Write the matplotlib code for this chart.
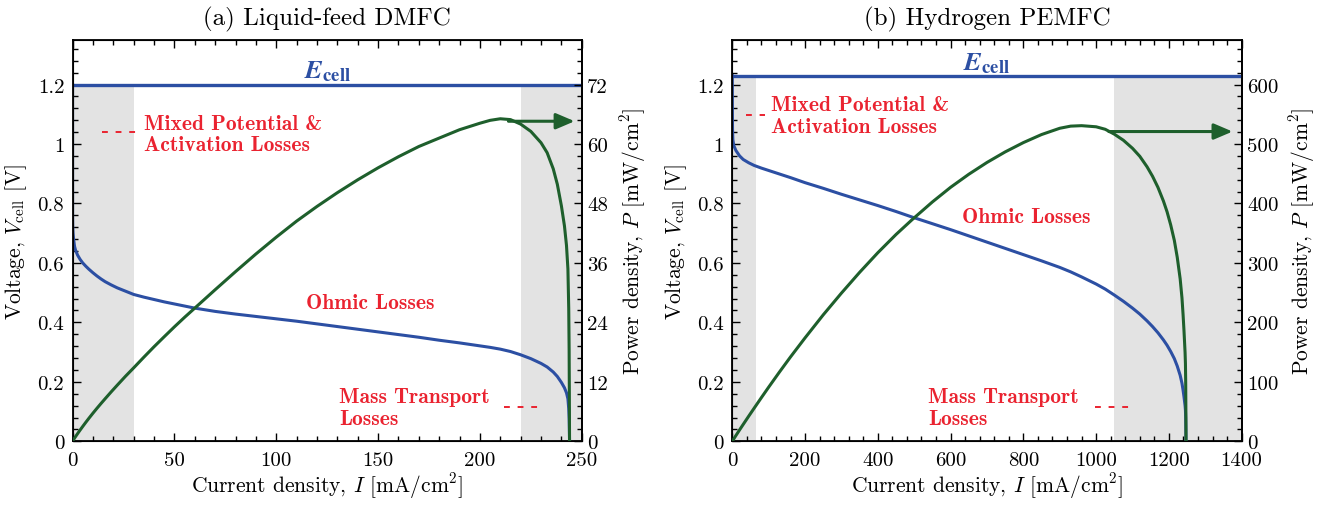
import matplotlib
matplotlib.use("Agg")
import matplotlib.pyplot as plt
from matplotlib.ticker import MultipleLocator, FuncFormatter

plt.rcParams['font.family'] = 'serif'
plt.rcParams['font.serif'] = ['cmr10']
plt.rcParams['mathtext.fontset'] = 'cm'
plt.rcParams['axes.formatter.use_mathtext'] = True
plt.rcParams['axes.unicode_minus'] = False

# ---------------- data: (a) Liquid-feed DMFC ----------------
dmfc_E = 1.2
dmfc_I = [0, 0.02, 0.1, 0.25, 0.5, 1, 1.5, 2.5, 3.7, 5, 6.5, 8, 10, 12, 14, 16, 19, 22,
          26, 30, 35, 40, 45, 50, 55, 60, 70, 80, 90, 100, 110, 120, 130, 140, 150, 160,
          170, 180, 190, 200, 205, 210, 215, 220, 225, 230, 233, 236, 238, 240, 241.5,
          242.5, 243.2, 243.6, 243.8, 243.9, 244]
dmfc_V = [1.2, 0.76, 0.72, 0.70, 0.68, 0.655, 0.642, 0.626, 0.612, 0.600, 0.589, 0.579,
          0.567, 0.556, 0.546, 0.537, 0.526, 0.516, 0.505, 0.494, 0.485, 0.477, 0.469,
          0.462, 0.455, 0.448, 0.437, 0.428, 0.420, 0.412, 0.404, 0.395, 0.386, 0.377,
          0.368, 0.359, 0.350, 0.340, 0.331, 0.321, 0.316, 0.310, 0.302, 0.291, 0.278,
          0.262, 0.250, 0.233, 0.218, 0.198, 0.180, 0.163, 0.143, 0.11, 0.075, 0.04, 0.0]
dmfc_P = [0, 0.015, 0.072, 0.175, 0.34, 0.655, 0.963, 1.565, 2.264, 3.0, 3.829, 4.632,
          5.67, 6.672, 7.644, 8.592, 9.994, 11.352, 13.13, 14.82, 16.975, 19.08, 21.105,
          23.1, 25.025, 26.88, 30.59, 34.24, 37.8, 41.2, 44.44, 47.4, 50.18, 52.78, 55.2,
          57.44, 59.5, 61.2, 62.89, 64.2, 64.78, 65.1, 64.93, 64.02, 62.55, 60.26, 58.25,
          54.99, 51.88, 47.52, 43.47, 39.53, 34.78, 26.80, 18.29, 9.756, 0]
dmfc_shade = [(0, 30), (220, 250)]

# ---------------- data: (b) Hydrogen PEMFC ----------------
pem_E = 1.23
pem_I = [0, 0.2, 0.6, 1.5, 4, 10, 20, 30, 45, 60, 80, 100, 130, 160, 200, 250, 300, 350,
         400, 450, 495, 550, 600, 650, 700, 750, 800, 850, 900, 930, 960, 1000, 1025,
         1050, 1075, 1100, 1120, 1140, 1155, 1170, 1185, 1195, 1205, 1215, 1223, 1231,
         1236, 1239, 1241.5, 1243, 1244.5, 1245.5, 1246.2, 1246.6, 1246.9, 1247]
pem_V = [1.23, 1.12, 1.05, 1.015, 0.995, 0.978, 0.960, 0.948, 0.937, 0.928, 0.919, 0.911,
         0.899, 0.887, 0.870, 0.851, 0.831, 0.812, 0.793, 0.773, 0.754, 0.732, 0.712,
         0.691, 0.670, 0.649, 0.628, 0.607, 0.585, 0.570, 0.553, 0.529, 0.512, 0.492,
         0.471, 0.448, 0.428, 0.405, 0.386, 0.365, 0.341, 0.323, 0.302, 0.278, 0.253,
         0.222, 0.195, 0.172, 0.150, 0.135, 0.120, 0.105, 0.080, 0.050, 0.020, 0.0]
pem_P = [0, 0.224, 0.63, 1.52, 3.98, 9.78, 19.2, 28.44, 42.17, 55.68, 73.52, 91.1, 116.87,
         141.92, 174.0, 212.75, 249.3, 284.2, 317.2, 347.85, 373.23, 402.6, 427.2, 449.15,
         469.0, 486.75, 502.4, 515.95, 526.5, 530.1, 530.88, 529.0, 524.8, 516.6, 506.33,
         492.8, 479.36, 461.7, 445.83, 427.05, 404.09, 385.99, 363.91, 337.77, 309.42,
         273.28, 241.02, 213.11, 186.23, 167.81, 149.34, 130.78, 99.70, 62.33, 24.94, 0]
pem_shade = [(0, 65), (1050, 1400)]

BLUE = '#2c4fa3'
GREEN = '#1e5f2c'
RED = '#ea2330'
GRAY = '#e3e3e3'

fig = plt.figure(figsize=(13.24, 5.06), dpi=100)

panels = [
    dict(rect=[0.0548, 0.1259, 0.3846, 0.7931], I=dmfc_I, V=dmfc_V, P=dmfc_P, E=dmfc_E,
         shade=dmfc_shade, xmax=250, xmaj=50, xmin=10, pscale=60, pmaj=12, pmin=2.4,
         title='(a) Liquid-feed DMFC',
         e_pos=(125, dmfc_E + 0.045),
         mix_pos=(35, 1.034), mix_dash=(14.6, 31.5, 1.04),
         ohm_pos=(146, 0.466),
         mass_pos=(131, 0.114), mass_dash=(212, 230, 0.117),
         arrow=(214, 246.5, 64.6),
         ylx=-0.086, yrx=1.071),
    dict(rect=[0.5531, 0.1259, 0.3847, 0.7931], I=pem_I, V=pem_V, P=pem_P, E=pem_E,
         shade=pem_shade, xmax=1400, xmaj=200, xmin=40, pscale=500, pmaj=100, pmin=20,
         title='(b) Hydrogen PEMFC',
         e_pos=(700, pem_E + 0.042),
         mix_pos=(106, 1.096), mix_dash=(38, 90, 1.096),
         ohm_pos=(807, 0.755),
         mass_pos=(539, 0.114), mass_dash=(997, 1092, 0.117),
         arrow=(1035, 1375, 521),
         ylx=-0.086, yrx=1.089),
]

fmt = FuncFormatter(lambda v, p: '%g' % round(v, 6))
TICK_FS = 15
LAB_FS = 15.5
ANN_FS = 15.5

for pn in panels:
    ax = fig.add_axes(pn['rect'])
    ymax = 1.35
    ax.set_xlim(0, pn['xmax'])
    ax.set_ylim(0, ymax)
    for a, b in pn['shade']:
        ax.fill_between([a, b], 0, pn['E'], color=GRAY, lw=0, zorder=0)
    ax.axhline(pn['E'], color=BLUE, lw=2.4, zorder=3)
    ax.plot(pn['I'], pn['V'], color=BLUE, lw=2.2, zorder=3)

    ax.xaxis.set_major_locator(MultipleLocator(pn['xmaj']))
    ax.xaxis.set_minor_locator(MultipleLocator(pn['xmin']))
    ax.yaxis.set_major_locator(MultipleLocator(0.2))
    ax.yaxis.set_minor_locator(MultipleLocator(0.04))
    ax.xaxis.set_major_formatter(fmt)
    ax.yaxis.set_major_formatter(fmt)
    ax.tick_params(which='both', direction='in', top=True, right=False,
                   labelsize=TICK_FS, width=1.0)
    ax.tick_params(which='major', length=6)
    ax.tick_params(which='minor', length=3.5)
    ax.tick_params(axis='x', pad=7)
    ax.tick_params(axis='y', pad=6)
    for s in ax.spines.values():
        s.set_linewidth(1.3)

    ax2 = ax.twinx()
    ax2.set_ylim(0, ymax * pn['pscale'])
    ax2.plot(pn['I'], pn['P'], color=GREEN, lw=2.2, zorder=3)
    ax2.yaxis.set_major_locator(MultipleLocator(pn['pmaj']))
    ax2.yaxis.set_minor_locator(MultipleLocator(pn['pmin']))
    ax2.yaxis.set_major_formatter(fmt)
    ax2.tick_params(which='both', direction='in', labelsize=TICK_FS, width=1.0, pad=4)
    ax2.tick_params(which='major', length=6)
    ax2.tick_params(which='minor', length=3.5)
    ax2.spines['right'].set_linewidth(1.3)
    x0, x1, ya = pn['arrow']
    ax2.annotate('', xy=(x1, ya), xytext=(x0, ya),
                 arrowprops=dict(arrowstyle='-|>,head_length=0.75,head_width=0.32',
                                 color=GREEN, lw=2.2, shrinkA=0, shrinkB=0,
                                 mutation_scale=15))

    ax.set_title(pn['title'], fontsize=18, pad=11)
    ax.set_xlabel(r'Current density, $I$ [mA/cm$^2$]', fontsize=LAB_FS, labelpad=1)
    ax.set_ylabel(r'Voltage, $V_{\rm cell}$ [V]', fontsize=LAB_FS)
    ax.yaxis.set_label_coords(pn['ylx'], 0.5)
    ax2.set_ylabel(r'Power density, $P$ [mW/cm$^2$]', fontsize=LAB_FS)
    ax2.yaxis.set_label_coords(pn['yrx'], 0.5)

    ax.text(pn['e_pos'][0], pn['e_pos'][1], r'$\mathbfit{E}_{\mathbf{cell}}$',
            color=BLUE, fontsize=19, ha='center', va='center', math_fontfamily='stix')
    ax.text(pn['mix_pos'][0], pn['mix_pos'][1], 'Mixed Potential &\nActivation Losses',
            color=RED, fontsize=ANN_FS, family='cmb10', ha='left', va='center',
            linespacing=1.17)
    a, b, yd = pn['mix_dash']
    ax.plot([a, b], [yd, yd], color=RED, lw=1.4, dashes=(3.0, 4.0))
    ax.text(pn['ohm_pos'][0], pn['ohm_pos'][1], 'Ohmic Losses', color=RED,
            fontsize=ANN_FS, family='cmb10', ha='center', va='center')
    ax.text(pn['mass_pos'][0], pn['mass_pos'][1], 'Mass Transport\nLosses', color=RED,
            fontsize=ANN_FS, family='cmb10', ha='left', va='center', linespacing=1.17)
    a, b, yd = pn['mass_dash']
    ax.plot([a, b], [yd, yd], color=RED, lw=1.4, dashes=(3.0, 4.0))

fig.savefig('out.png', dpi=100)
